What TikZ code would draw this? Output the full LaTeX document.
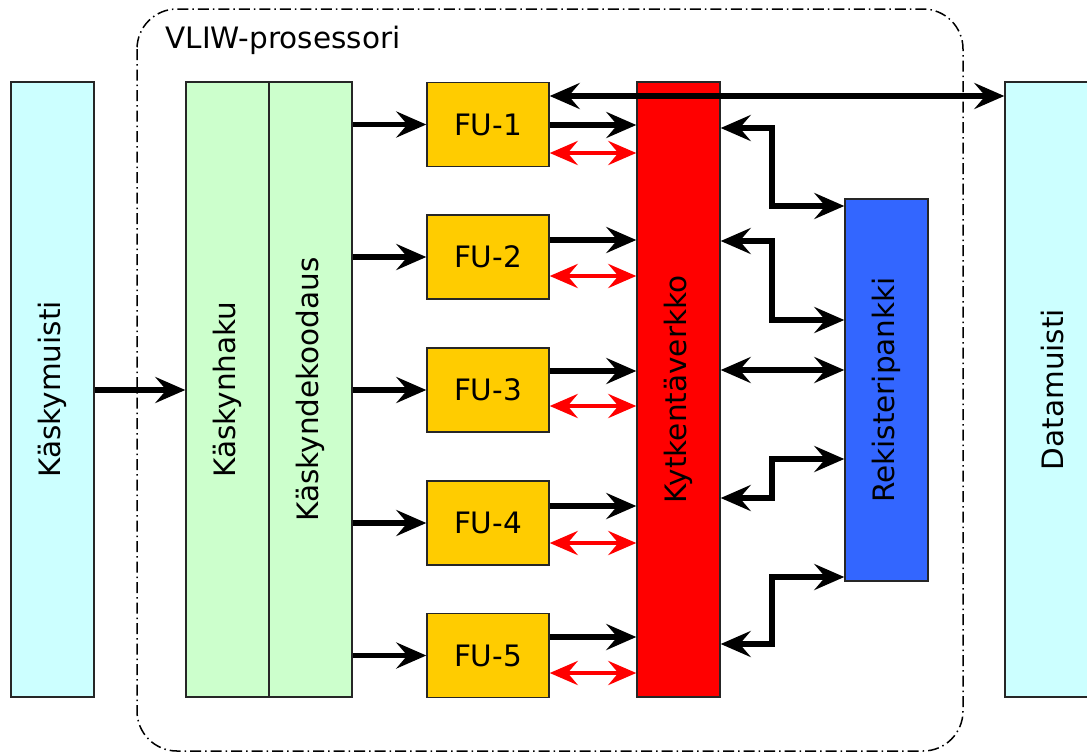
\documentclass[tikz,border=0pt]{standalone}
\usepackage{fontspec}
\setmainfont{DejaVu Sans}
\usetikzlibrary{arrows.meta}
\definecolor{cmem}{HTML}{CCFFFF}
\definecolor{cgreen}{HTML}{CCFFCC}
\definecolor{cfu}{HTML}{FFCC00}
\definecolor{cnet}{HTML}{FF0000}
\definecolor{creg}{HTML}{3366FF}
\tikzset{
  blk/.style={draw=black!85, line width=1.4pt, inner sep=0pt, font=\fontsize{29.5}{33}\selectfont},
  vert/.style={blk, rotate=90},
  conn/.style={line width=5.5pt, -{Stealth[length=30pt,width=26pt,inset=11pt]}},
  bconn/.style={line width=5.5pt, {Stealth[length=30pt,width=26pt,inset=11pt]}-{Stealth[length=30pt,width=26pt,inset=11pt]}},
  rconn/.style={red, line width=4.5pt, {Stealth[length=28pt,width=24pt,inset=10pt]}-{Stealth[length=28pt,width=24pt,inset=10pt]}},
}
\begin{document}
\begin{tikzpicture}[x=1pt,y=-1pt]
\useasboundingbox (0,0) rectangle (1087,753);
% frame
\draw[line width=1.5pt, dash pattern=on 11pt off 4pt on 1.5pt off 4pt, rounded corners=40pt] (137,9) rectangle (963,751);
\node[anchor=west, font=\fontsize{29.5}{33}\selectfont] (title) at (162,40) {VLIW-prosessori};
% blocks
\node[vert, fill=cmem, minimum width=615pt, minimum height=83pt] (km) at (52.5,389.5) {Käskymuisti};
\node[vert, fill=cgreen, minimum width=615pt, minimum height=83pt] (kh) at (227.5,389.5) {Käskynhaku};
\node[vert, fill=cgreen, minimum width=615pt, minimum height=83pt] (kd) at (310.5,389.5) {Käskyndekoodaus};
\node[vert, fill=cnet, minimum width=615pt, minimum height=83pt] (kv) at (678.5,389.5) {Kytkentäverkko};
\node[vert, fill=creg, minimum width=382pt, minimum height=83pt] (rp) at (886.5,390) {Rekisteripankki};
\node[vert, fill=cmem, minimum width=615pt, minimum height=94pt] (dm) at (1052,389.5) {Datamuisti};
\foreach \i/\y in {1/124.5,2/257,3/390,4/523,5/655.5}{
  \node[blk, fill=cfu, minimum width=122pt, minimum height=84pt] (fu\i) at (488,\y) {FU-\i};
}
% arrows
\draw[conn] (km.south |- 0,390) -- (kh.north |- 0,390);
\foreach \i in {1,...,5}{
  \draw[conn] (kd.south |- fu\i.west) -- (fu\i.west);
}
\foreach \i/\yb/\yr in {1/125/153,2/240/276,3/371/406,4/506/543,5/637/673}{
  \draw[conn] (fu\i.east |- 0,\yb) -- (kv.north |- 0,\yb);
  \draw[rconn] (fu\i.east |- 0,\yr) -- (kv.north |- 0,\yr);
}
\draw[bconn] (fu1.east |- 0,96) -- (dm.north |- 0,96);
% network <-> register bank
\coordinate (b1) at (772,128);
\draw[bconn] (kv.south |- b1) -- (b1) |- (rp.north |- 0,206);
\coordinate (b2) at (772,241);
\draw[bconn] (kv.south |- b2) -- (b2) |- (rp.north |- 0,320);
\draw[bconn] (kv.south |- 0,370) -- (rp.north |- 0,370);
\coordinate (b4) at (772,498);
\draw[bconn] (kv.south |- b4) -- (b4) |- (rp.north |- 0,459);
\coordinate (b5) at (772,644);
\draw[bconn] (kv.south |- b5) -- (b5) |- (rp.north |- 0,577);
\end{tikzpicture}
\end{document}
